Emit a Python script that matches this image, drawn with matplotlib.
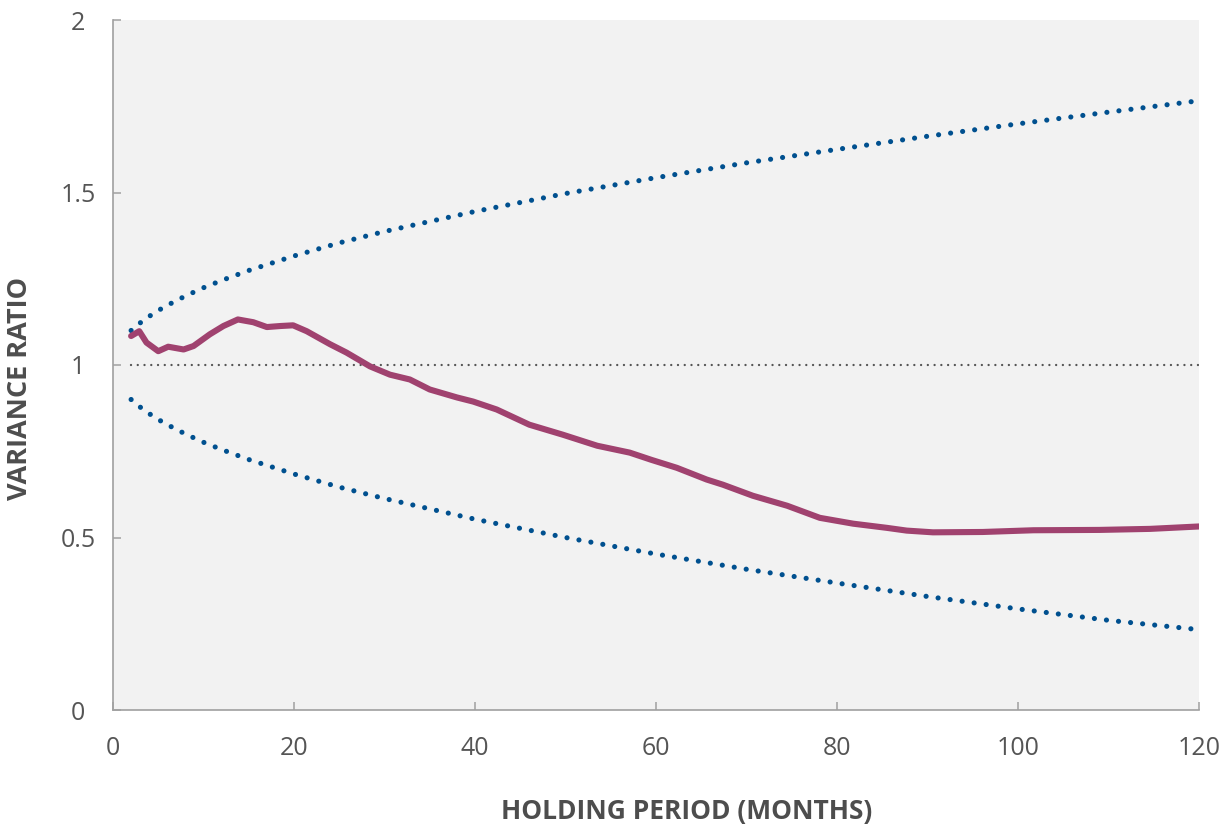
import matplotlib.pyplot as plt

# holding period (months) and variance ratio
months = [2, 2.9, 3.7, 5.0, 6.1, 7.8, 8.9, 10.7, 12.2, 13.8, 15.5, 17.0, 18.5, 19.9,
          21.4, 24.0, 25.8, 28.4, 30.6, 32.8, 35.0, 38.0, 39.8, 42.4, 46.0, 49.7,
          53.5, 57.1, 59.5, 62.3, 65.6, 67.4, 70.7, 74.5, 78.1, 81.8, 85.5, 87.7,
          90.6, 96.1, 101.7, 109.0, 114.6, 120]
ratio = [1.084, 1.098, 1.065, 1.040, 1.053, 1.045, 1.055, 1.089, 1.113, 1.132, 1.124,
         1.110, 1.113, 1.115, 1.098, 1.060, 1.036, 0.996, 0.972, 0.958, 0.929, 0.906,
         0.894, 0.871, 0.827, 0.798, 0.766, 0.746, 0.725, 0.702, 0.668, 0.653, 0.621,
         0.592, 0.557, 0.540, 0.528, 0.520, 0.515, 0.516, 0.521, 0.522, 0.525, 0.532]

band_x = [2, 3, 4, 5, 6, 8, 10, 12, 15, 20, 25, 30, 40, 50, 60, 70, 80, 90, 100, 110, 120]
upper = [1.10, 1.122, 1.141, 1.158, 1.173, 1.20, 1.224, 1.245, 1.274, 1.316, 1.354,
         1.387, 1.445, 1.497, 1.543, 1.586, 1.625, 1.663, 1.699, 1.733, 1.766]
lower = [0.90, 0.878, 0.859, 0.842, 0.827, 0.80, 0.776, 0.755, 0.726, 0.684, 0.646,
         0.613, 0.553, 0.50, 0.452, 0.408, 0.368, 0.329, 0.293, 0.260, 0.233]

xticks = [0, 20, 40, 60, 80, 100, 120]
yticks = [0, 0.5, 1, 1.5, 2]
ytick_labels = ['0', '0.5', '1', '1.5', '2']

fig = plt.figure(figsize=(12.31, 8.27), dpi=100)
ax = fig.add_axes([113 / 1231, 117 / 827, 1086 / 1231, 690 / 827])
ax.set_facecolor('#f2f2f2')

ax.plot([2, 120], [1, 1], color='#555555', lw=1.7, linestyle=(0, (0.01, 2.85)),
        dash_capstyle='round')
ax.plot(band_x, upper, color='#00508f', lw=3.7, linestyle=(0, (0.01, 2.35)),
        dash_capstyle='round')
ax.plot(band_x, lower, color='#00508f', lw=3.7, linestyle=(0, (0.01, 2.35)),
        dash_capstyle='round')
ax.plot(months, ratio, color='#a0426f', lw=4.4, solid_capstyle='round',
        solid_joinstyle='round')

ax.set_xlim(0, 120)
ax.set_ylim(0, 2)
ax.set_xticks(xticks)
ax.set_yticks(yticks)
ax.set_yticklabels(ytick_labels)

for s in ['top', 'right']:
    ax.spines[s].set_visible(False)
for s in ['left', 'bottom']:
    ax.spines[s].set_color('#a0a0a0')
    ax.spines[s].set_linewidth(1.2)

ax.tick_params(axis='both', direction='in', length=6, width=1.1, color='#a0a0a0',
               labelcolor='#555555', labelsize=18)
ax.tick_params(axis='x', pad=19)
ax.tick_params(axis='y', pad=25)
for lab in ax.get_yticklabels():
    lab.set_horizontalalignment('center')
for lab in ax.get_xticklabels() + ax.get_yticklabels():
    lab.set_family('Open Sans')

fig.text(20 / 1231, 1 - 388 / 827, 'VARIANCE RATIO', rotation=90, ha='center',
         va='center', fontsize=19.5, fontweight='bold', color='#4d4d4d',
         family='Open Sans')
fig.text(687 / 1231, 1 - 812 / 827, 'HOLDING PERIOD (MONTHS)', ha='center',
         va='center', fontsize=19, fontweight='bold', color='#4d4d4d',
         family='Open Sans')

plt.savefig('out.png', dpi=100, facecolor='white')
